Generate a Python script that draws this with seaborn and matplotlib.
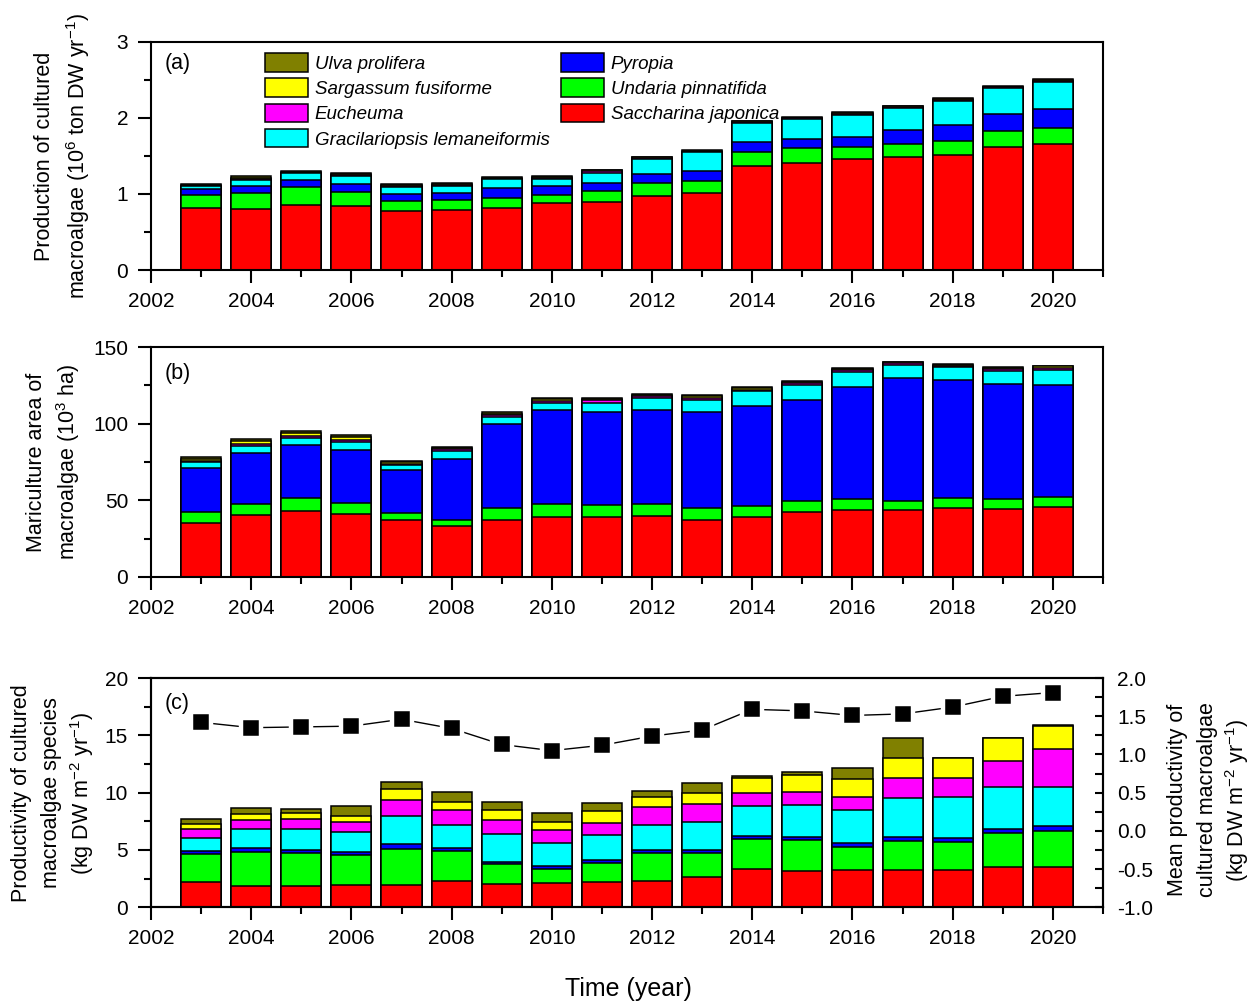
import matplotlib
matplotlib.use("Agg")
import matplotlib.pyplot as plt
from matplotlib.patches import Patch
from matplotlib.ticker import MultipleLocator, FormatStrFormatter
import numpy as np
import pandas as pd
import seaborn as sns

years = list(range(2003, 2021))

species = ["Saccharina japonica", "Undaria pinnatifida", "Pyropia",
           "Gracilariopsis lemaneiformis", "Eucheuma", "Sargassum fusiforme",
           "Ulva prolifera"]
colors = ["#FF0000", "#00FF00", "#0000FF", "#00FFFF", "#FF00FF", "#FFFF00", "#808000"]

# (a) production of cultured macroalgae, 10^6 t DW / yr
sj_a = [0.81, 0.80, 0.86, 0.84, 0.77, 0.79, 0.82, 0.875, 0.90, 0.97, 1.01, 1.37, 1.41, 1.455, 1.48, 1.515, 1.62, 1.655]
up_a = [0.18, 0.21, 0.23, 0.19, 0.14, 0.13, 0.13, 0.11, 0.14, 0.17, 0.16, 0.185, 0.19, 0.155, 0.17, 0.18, 0.21, 0.215]
py_a = [0.075, 0.10, 0.09, 0.10, 0.09, 0.09, 0.13, 0.115, 0.10, 0.12, 0.13, 0.125, 0.125, 0.14, 0.19, 0.21, 0.22, 0.24]
gl_a = [0.035, 0.07, 0.09, 0.105, 0.095, 0.10, 0.11, 0.10, 0.14, 0.20, 0.245, 0.255, 0.26, 0.29, 0.29, 0.32, 0.34, 0.365]
eu_a = [0.010, 0.015, 0.010, 0.010, 0.010, 0.010, 0.010, 0.010, 0.015, 0.010, 0.010, 0.008, 0.008, 0.010, 0.010, 0.012, 0.010, 0.010]
sf_a = [0.012, 0.020, 0.012, 0.015, 0.015, 0.012, 0.012, 0.015, 0.015, 0.012, 0.015, 0.010, 0.010, 0.012, 0.012, 0.013, 0.010, 0.012]
ul_a = [0.008, 0.015, 0.008, 0.010, 0.010, 0.008, 0.008, 0.010, 0.010, 0.008, 0.010, 0.007, 0.007, 0.008, 0.008, 0.010, 0.010, 0.008]

# (b) mariculture area, 10^3 ha
sj_b = [35.3, 40.3, 43.2, 40.8, 37.1, 33.2, 37.1, 39.2, 39.2, 39.7, 37.1, 39.2, 42.5, 43.6, 43.6, 44.7, 44.1, 45.4]
up_b = [7.0, 7.2, 8.1, 7.4, 4.8, 4.3, 8.0, 8.3, 7.7, 7.6, 8.0, 7.2, 7.2, 7.2, 6.1, 6.6, 6.7, 6.9]
py_b = [28.6, 33.2, 34.6, 34.7, 27.9, 39.3, 54.6, 61.1, 61.0, 61.7, 62.4, 64.8, 65.9, 73.1, 80.1, 76.9, 75.0, 72.9]
gl_b = [3.9, 4.8, 5.0, 5.4, 3.3, 5.6, 4.5, 4.8, 5.9, 7.7, 8.1, 9.8, 9.8, 9.8, 8.7, 8.5, 8.7, 10.0]
eu_b = [0.8, 1.2, 1.3, 1.2, 0.8, 1.0, 1.5, 1.6, 1.4, 1.2, 1.3, 1.0, 1.0, 1.1, 0.8, 0.8, 0.9, 1.0]
sf_b = [1.6, 1.8, 1.8, 2.0, 1.2, 0.7, 0.9, 1.0, 0.9, 0.9, 1.0, 1.0, 0.9, 1.0, 0.7, 0.9, 1.0, 1.1]
ul_b = [1.3, 1.5, 1.5, 1.4, 0.8, 0.5, 0.7, 0.7, 0.6, 0.5, 0.7, 0.6, 0.5, 0.5, 0.4, 0.5, 0.5, 0.5]

# (c) productivity of each species, kg DW / m2 / yr
sj_c = [2.18, 1.86, 1.86, 1.95, 1.95, 2.32, 2.06, 2.12, 2.21, 2.32, 2.62, 3.32, 3.20, 3.26, 3.26, 3.26, 3.55, 3.49]
up_c = [2.45, 2.97, 2.88, 2.59, 3.14, 2.60, 1.70, 1.23, 1.66, 2.45, 2.15, 2.64, 2.68, 2.03, 2.56, 2.47, 2.91, 3.17]
py_c = [0.31, 0.38, 0.26, 0.32, 0.41, 0.23, 0.22, 0.23, 0.23, 0.23, 0.23, 0.27, 0.29, 0.30, 0.35, 0.30, 0.35, 0.44]
gl_c = [1.09, 1.60, 1.84, 1.72, 2.50, 2.04, 2.42, 2.01, 2.21, 2.19, 2.48, 2.62, 2.71, 2.91, 3.40, 3.63, 3.67, 3.43]
eu_c = [0.78, 0.81, 0.85, 0.90, 1.37, 1.31, 1.22, 1.16, 1.08, 1.60, 1.51, 1.11, 1.22, 1.16, 1.70, 1.61, 2.24, 3.27]
sf_c = [0.47, 0.53, 0.52, 0.49, 0.99, 0.72, 0.88, 0.73, 1.05, 0.87, 1.02, 1.31, 1.45, 1.54, 1.74, 1.74, 2.04, 1.97]
ul_c = [0.41, 0.50, 0.35, 0.88, 0.61, 0.82, 0.67, 0.78, 0.70, 0.52, 0.82, 0.20, 0.29, 0.94, 1.75, 0.05, 0.05, 0.15]

# mean productivity of cultured macroalgae, kg DW / m2 / yr
mean_prod = [1.42, 1.35, 1.36, 1.37, 1.46, 1.34, 1.13, 1.05, 1.12, 1.24, 1.32, 1.59, 1.57, 1.51, 1.53, 1.62, 1.76, 1.81]


def make_table(cols):
    return pd.DataFrame(dict(zip(species, cols)), index=years)


prod = make_table([sj_a, up_a, py_a, gl_a, eu_a, sf_a, ul_a])
area = make_table([sj_b, up_b, py_b, gl_b, eu_b, sf_b, ul_b])
prody = make_table([sj_c, up_c, py_c, gl_c, eu_c, sf_c, ul_c])

sns.set_theme(style="ticks")
plt.rcParams.update({
    "font.family": ["Liberation Sans", "DejaVu Sans"],
    "mathtext.fontset": "custom",
    "mathtext.rm": "Liberation Sans",
    "mathtext.it": "Liberation Sans:italic",
    "axes.unicode_minus": False,
    "axes.edgecolor": "black",
    "axes.linewidth": 1.5,
    "text.color": "black",
    "xtick.color": "black",
    "ytick.color": "black",
    "axes.labelcolor": "black",
})

W, H = 1250, 1005
fig = plt.figure(figsize=(W / 100, H / 100), dpi=100)


def rect(left, top, right, bottom):
    return [left / W, 1 - bottom / H, (right - left) / W, (bottom - top) / H]


ax_a = fig.add_axes(rect(151, 41.7, 1103, 270))
ax_b = fig.add_axes(rect(151, 347, 1103, 577))
ax_c = fig.add_axes(rect(151, 678, 1103, 907.3))


def stacked(ax, table):
    cum = table.cumsum(axis=1)
    x = np.array(cum.index)
    for sp, col in reversed(list(zip(species, colors))):
        sns.barplot(x=x, y=cum[sp].to_numpy(), native_scale=True, color=col,
                    saturation=1, width=0.8, edgecolor="black", linewidth=1.1,
                    errorbar=None, ax=ax)


def style_axes(ax, ymax, ymajor, yminor):
    ax.set_xlim(2002, 2021)
    ax.set_ylim(0, ymax)
    ax.xaxis.set_major_locator(MultipleLocator(2))
    ax.xaxis.set_minor_locator(MultipleLocator(1))
    ax.yaxis.set_major_locator(MultipleLocator(ymajor))
    ax.yaxis.set_minor_locator(MultipleLocator(yminor))
    ax.tick_params(which="major", direction="out", length=9.5, width=1.5,
                   labelsize=15)
    ax.tick_params(which="minor", direction="out", length=5, width=1.5)
    ax.tick_params(axis="x", which="major", pad=6)
    ax.tick_params(axis="y", which="major", pad=7)
    ax.tick_params(top=False, right=False, which="both")
    for s in ax.spines.values():
        s.set_visible(True)
        s.set_linewidth(1.5)
        s.set_color("black")
    ax.set_xlabel("")
    ax.set_ylabel("")


stacked(ax_a, prod)
stacked(ax_b, area)
stacked(ax_c, prody)
style_axes(ax_a, 3, 1, 0.5)
style_axes(ax_b, 150, 50, 25)
style_axes(ax_c, 20, 5, 2.5)

# mean productivity on the right axis
ax_r = ax_c.twinx()
sns.lineplot(x=years, y=mean_prod, ax=ax_r, color="black", linewidth=1.0,
             marker="s", markersize=14, markerfacecolor="black",
             markeredgecolor="white", markeredgewidth=3.2)
ax_r.set_ylim(-1, 2)
ax_r.yaxis.set_major_locator(MultipleLocator(0.5))
ax_r.yaxis.set_minor_locator(MultipleLocator(0.25))
ax_r.yaxis.set_major_formatter(FormatStrFormatter("%.1f"))
ax_r.tick_params(axis="y", which="both", direction="in", length=6, width=1.5,
                 labelsize=15, pad=10)
ax_r.set_ylabel("")
for s in ax_r.spines.values():
    s.set_linewidth(1.5)
    s.set_color("black")

# panel tags
for ax, tag, ty in [(ax_a, "(a)", 0.905), (ax_b, "(b)", 0.885), (ax_c, "(c)", 0.89)]:
    ax.text(0.0147, ty, tag, transform=ax.transAxes, fontsize=15.5,
            ha="left", va="center")

# legend in two columns
handles = {sp: Patch(facecolor=c, edgecolor="black", linewidth=1.1, label=sp)
           for sp, c in zip(species, colors)}
col1 = ["Ulva prolifera", "Sargassum fusiforme", "Eucheuma", "Gracilariopsis lemaneiformis"]
col2 = ["Pyropia", "Undaria pinnatifida", "Saccharina japonica"]
leg_kw = dict(frameon=False, loc="upper left", borderpad=0, borderaxespad=0,
              handlelength=2.3, handleheight=1.15, handletextpad=0.35,
              labelspacing=0.3, prop={"style": "italic", "size": 13.5})
leg_top = (270 - 53) / 228.3
leg1 = ax_a.legend(handles=[handles[s] for s in col1],
                   bbox_to_anchor=((265 - 151) / 952, leg_top), **leg_kw)
ax_a.add_artist(leg1)
ax_a.legend(handles=[handles[s] for s in col2],
            bbox_to_anchor=((561 - 151) / 952, leg_top), **leg_kw)

# axis titles
lab_fs = 15.5


def vlabel(x, y, s):
    fig.text(x / W, 1 - y / H, s, rotation=90, ha="center", va="center",
             fontsize=lab_fs)


vlabel(45, 156, "Production of cultured")
vlabel(78, 156, r"macroalgae (10$^{6}$ ton DW yr$^{-1}$)")
vlabel(37, 462, "Mariculture area of")
vlabel(68, 462, r"macroalgae (10$^{3}$ ha)")
vlabel(22, 793, "Productivity of cultured")
vlabel(52, 793, "macroalgae species")
vlabel(82, 793, r"(kg DW m$^{-2}$ yr$^{-1}$)")
vlabel(1178, 800, "Mean productivity of")
vlabel(1208, 800, "cultured macroalgae")
vlabel(1237, 800, r"(kg DW m$^{-2}$ yr$^{-1}$)")

fig.text(628 / W, 1 - 989 / H, "Time (year)", ha="center", va="center",
         fontsize=18)

fig.savefig("out.png", dpi=100)
